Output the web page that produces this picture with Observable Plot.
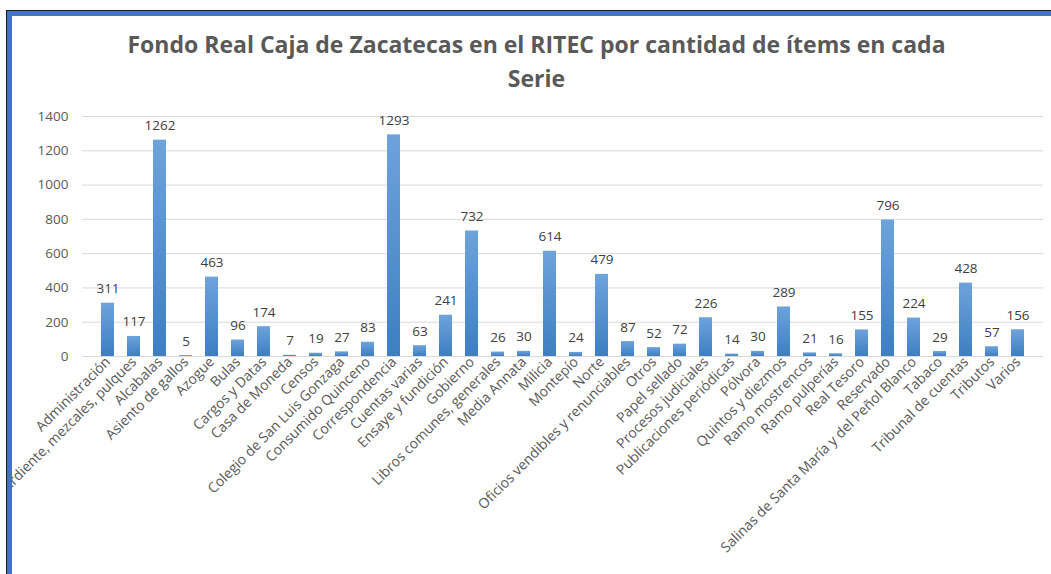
<!DOCTYPE html>
<html>
<head>
<meta charset="utf-8">
<script src="https://cdn.jsdelivr.net/npm/d3@7"></script>
<script src="https://cdn.jsdelivr.net/npm/@observablehq/plot@0.6"></script>
<style>
  html, body { margin: 0; padding: 0; background: #fff; }
  body { width: 1051px; height: 574px; position: relative; overflow: hidden; font-family: "Open Sans", sans-serif; }
  #frameBlack { position: absolute; left: 6px; top: 10px; width: 1045px; height: 1px; background: #1a1a1a; }
  #frameBlue { position: absolute; left: 7px; top: 11px; width: 1044px; height: 5px; background: #4472c4; }
  #frameLeftBlack { position: absolute; left: 6px; top: 10px; width: 1px; height: 564px; background: #1a1a1a; }
  #frameLeftBlue { position: absolute; left: 7px; top: 11px; width: 5px; height: 563px; background: #4472c4; }
  #title { position: absolute; left: 12px; width: 1049px; top: 27px; text-align: center; font-size: 23px; font-weight: bold; color: #595959; line-height: 34px; font-family: "Open Sans", sans-serif; }
  #chartWrap { position: absolute; left: 12px; top: 100px; width: 1039px; height: 474px; overflow: hidden; }
</style>
</head>
<body>
<div id="frameBlack"></div>
<div id="frameBlue"></div>
<div id="frameLeftBlack"></div>
<div id="frameLeftBlue"></div>
<div id="title">Fondo Real Caja de Zacatecas en el RITEC por cantidad de ítems en cada<br>Serie</div>
<div id="chartWrap"></div>
<script>
const categories = [
  "Administración",
  "Aguardiente, mezcales, pulques",
  "Alcabalas",
  "Asiento de gallos",
  "Azogue",
  "Bulas",
  "Cargos y Datas",
  "Casa de Moneda",
  "Censos",
  "Colegio de San Luis Gonzaga",
  "Consumido Quinceno",
  "Correspondencia",
  "Cuentas varias",
  "Ensaye y fundición",
  "Gobierno",
  "Libros comunes, generales",
  "Media Annata",
  "Milicia",
  "Montepío",
  "Norte",
  "Oficios vendibles y renunciables",
  "Otros",
  "Papel sellado",
  "Procesos judiciales",
  "Publicaciones periódicas",
  "Pólvora",
  "Quintos y diezmos",
  "Ramo mostrencos",
  "Ramo pulperías",
  "Real Tesoro",
  "Reservado",
  "Salinas de Santa María y del Peñol Blanco",
  "Tabaco",
  "Tribunal de cuentas",
  "Tributos",
  "Varios"
];
const values = [311, 117, 1262, 5, 463, 96, 174, 7, 19, 27, 83, 1293, 63, 241, 732, 26, 30, 614, 24, 479, 87, 52, 72, 226, 14, 30, 289, 21, 16, 155, 796, 224, 29, 428, 57, 156];
const yTicks = [0, 200, 400, 600, 800, 1000, 1200, 1400];

const data = categories.map((c, i) => ({category: c, value: values[i]}));

const chart = Plot.plot({
  width: 1039,
  height: 474,
  marginLeft: 70,
  marginRight: 8,
  marginTop: 16,
  marginBottom: 218,
  style: {fontFamily: "Open Sans, sans-serif", background: "transparent", overflow: "visible"},
  x: {domain: categories, paddingInner: 0.51, paddingOuter: 0.255, label: null},
  y: {domain: [0, 1400], ticks: yTicks, label: null},
  marks: [
    Plot.gridY(yTicks, {stroke: "#d9d9d9", strokeOpacity: 1, strokeWidth: 1}),
    Plot.barY(data, {x: "category", y: "value", fill: "url(#barGrad)", stroke: "none"}),
    Plot.text(data, {x: "category", y: "value", text: d => String(d.value), lineAnchor: "bottom", dy: -10, fill: "#404040", fontSize: 13.5}),
    Plot.axisY(yTicks, {tickSize: 0, tickPadding: 14, fontSize: 13.5, color: "#595959", label: null, tickFormat: d => String(d)}),
    Plot.axisX({tickSize: 0, tickPadding: 3, tickRotate: -45, fontSize: 14, color: "#595959", label: null})
  ]
});

// gradient defs for bars
const ns = "http://www.w3.org/2000/svg";
const defs = document.createElementNS(ns, "defs");
const grad = document.createElementNS(ns, "linearGradient");
grad.setAttribute("id", "barGrad");
grad.setAttribute("x1", "0"); grad.setAttribute("y1", "0");
grad.setAttribute("x2", "0"); grad.setAttribute("y2", "1");
[["0%", "#6ea3db"], ["100%", "#3d7fc2"]].forEach(([o, c]) => {
  const s = document.createElementNS(ns, "stop");
  s.setAttribute("offset", o); s.setAttribute("stop-color", c);
  grad.appendChild(s);
});
defs.appendChild(grad);
chart.insertBefore(defs, chart.firstChild);

document.getElementById("chartWrap").appendChild(chart);
</script>
</body>
</html>
